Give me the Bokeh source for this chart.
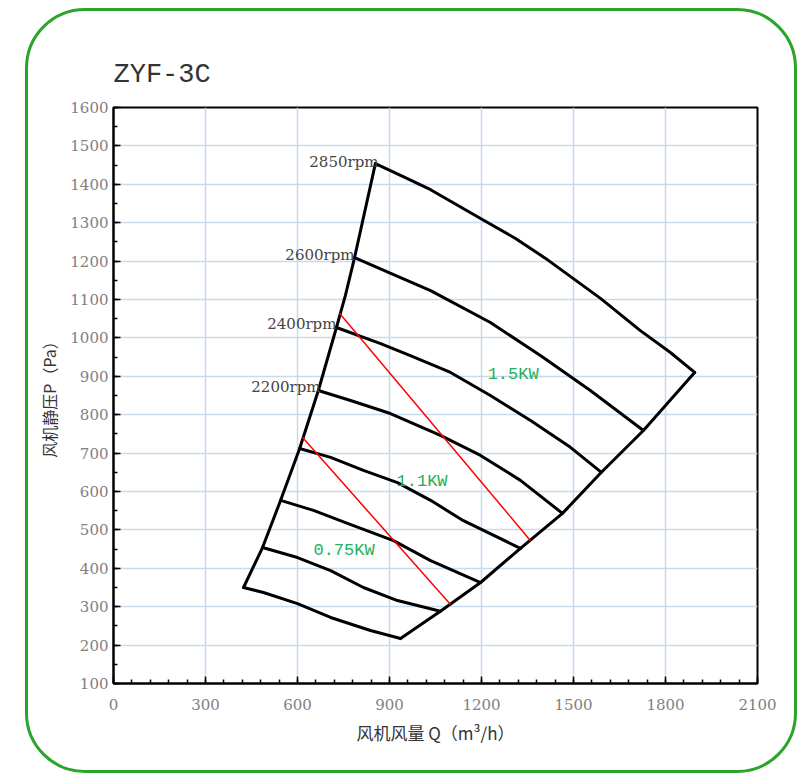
from bokeh.plotting import figure
from bokeh.models import Range1d, SingleIntervalTicker
from bokeh.core.properties import value
from bokeh.embed import file_html
from bokeh.resources import INLINE

# ---- data (Q in m3/h, P in Pa) ----
q_2850 = [854, 936, 1034, 1197, 1311, 1409, 1588, 1718, 1816, 1895]
p_2850 = [1454, 1423, 1386, 1311, 1259, 1207, 1103, 1019, 962, 910]
q_2600 = [786, 936, 1034, 1229, 1392, 1555, 1728]
p_2600 = [1209, 1157, 1123, 1040, 954, 863, 759]
q_2400 = [727, 871, 968, 1099, 1229, 1360, 1490, 1591]
p_2400 = [1027, 985, 954, 910, 850, 785, 715, 650]
q_2200 = [668, 773, 903, 1066, 1197, 1327, 1464]
p_2200 = [863, 837, 803, 746, 694, 629, 543]
q_c5 = [607, 708, 815, 926, 1034, 1141, 1327]
p_c5 = [712, 689, 655, 623, 577, 524, 452]
q_c6 = [545, 652, 763, 913, 1034, 1197]
p_c6 = [577, 551, 517, 472, 420, 363]
q_c7 = [486, 600, 708, 815, 926, 1066]
p_c7 = [454, 428, 394, 350, 316, 288]
q_c8 = [424, 489, 600, 708, 838, 936]
p_c8 = [350, 337, 308, 272, 238, 217]
q_left = [424, 486, 545, 607, 668, 727, 756, 786, 854]
p_left = [350, 454, 577, 712, 863, 1027, 1110, 1209, 1454]
q_right = [936, 1066, 1197, 1327, 1464, 1591, 1728, 1895]
p_right = [217, 288, 363, 452, 543, 650, 759, 910]
q_kw15 = [737, 1360]
p_kw15 = [1064, 472]
q_kw11 = [616, 1099]
p_kw11 = [741, 306]

rpm_labels = ["2850rpm", "2600rpm", "2400rpm", "2200rpm"]
rpm_q = [864, 786, 727, 675]
rpm_p = [1459, 1217, 1037, 871]
kw_labels = ["1.5KW", "1.1KW", "0.75KW"]
kw_q = [1220, 923, 652]
kw_p = [905, 626, 446]

frame_css = """
:host { position: relative; }
:host::after {
  content: "";
  position: absolute;
  left: 25px; top: 8px;
  width: 772px; height: 765px;
  box-sizing: border-box;
  border: 3px solid #2aa52a;
  border-radius: 60px;
  pointer-events: none;
  z-index: 10;
}
"""

p = figure(width=805, height=774, output_backend="svg", toolbar_location=None,
           x_range=Range1d(0, 2100), y_range=Range1d(100, 1600),
           min_border_left=113, min_border_right=48, min_border_top=107, min_border_bottom=91,
           stylesheets=[frame_css])
p.background_fill_color = "white"
p.border_fill_color = "white"
p.outline_line_color = "black"
p.outline_line_width = 2

p.title.text = "ZYF-3C"
p.title.text_font = "Liberation Mono"
p.title.text_font_size = "27px"
p.title.text_font_style = "normal"
p.title.text_color = "#333333"
p.title.align = "left"
p.title.standoff = 35

p.xaxis.ticker = SingleIntervalTicker(interval=300, num_minor_ticks=5)
p.yaxis.ticker = SingleIntervalTicker(interval=100, num_minor_ticks=2)
p.xgrid.ticker = SingleIntervalTicker(interval=300)
p.ygrid.ticker = SingleIntervalTicker(interval=100)
for g in (p.xgrid, p.ygrid):
    g.grid_line_color = "#c5dbf0"
    g.grid_line_width = 1.5

p.xaxis.axis_label = "风机风量 Q（m³/h）"
p.yaxis.axis_label = "风机静压P（Pa）"
for ax in (p.xaxis, p.yaxis):
    ax.axis_line_color = "black"
    ax.axis_line_width = 2
    ax.major_tick_in = 7
    ax.major_tick_out = 0
    ax.minor_tick_in = 4
    ax.minor_tick_out = 0
    ax.major_tick_line_color = "black"
    ax.minor_tick_line_color = "black"
    ax.major_tick_line_width = 1.5
    ax.minor_tick_line_width = 1.5
    ax.major_label_text_font = "DejaVu Serif"
    ax.major_label_text_font_size = "15px"
    ax.major_label_text_color = "#808080"
    ax.axis_label_text_font = "Noto Sans CJK SC"
    ax.axis_label_text_font_style = "normal"
    ax.axis_label_text_color = "#333333"
p.xaxis.axis_label_text_font_size = "17px"
p.yaxis.axis_label_text_font_size = "16px"
p.xaxis.major_label_standoff = 15
p.yaxis.major_label_standoff = 5
p.xaxis.axis_label_standoff = 7
p.yaxis.axis_label_standoff = 6

curves = [(q_2850, p_2850), (q_2600, p_2600), (q_2400, p_2400), (q_2200, p_2200),
          (q_c5, p_c5), (q_c6, p_c6), (q_c7, p_c7), (q_c8, p_c8),
          (q_left, p_left), (q_right, p_right)]
for xs, ys in curves:
    p.line(xs, ys, line_color="black", line_width=3, line_join="round", line_cap="round")

for xs, ys in [(q_kw15, p_kw15), (q_kw11, p_kw11)]:
    p.line(xs, ys, line_color="#ff0000", line_width=1.5)

p.text(x=rpm_q, y=rpm_p, text=rpm_labels, text_font=value("DejaVu Serif"),
       text_font_size="15px", text_align="right", text_baseline="middle", text_color="#444444")
p.text(x=kw_q, y=kw_p, text=kw_labels, text_font=value("Liberation Mono"),
       text_font_size="17px", text_align="left", text_baseline="middle", text_color="#22b05a")

open("out.html", "w").write(file_html(p, INLINE))
